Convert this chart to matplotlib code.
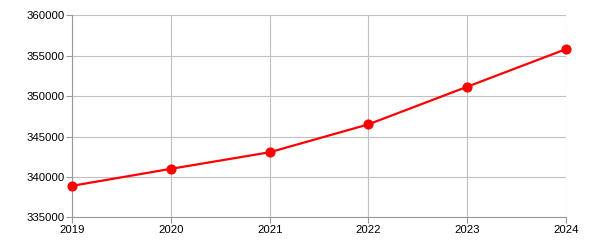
import matplotlib
matplotlib.use('Agg')
import matplotlib.pyplot as plt

# 数据
years = [2019, 2020, 2021, 2022, 2023, 2024]
values = [338900, 341000, 343050, 346500, 351150, 355800]
yticks = [335000, 340000, 345000, 350000, 355000, 360000]

plt.rcParams['font.family'] = ['Liberation Sans', 'DejaVu Sans']

fig = plt.figure(figsize=(6, 2.5), dpi=100)
ax = fig.add_axes([72.3 / 600, 1 - 217.3 / 250, (565.7 - 72.3) / 600, (217.3 - 15.3) / 250])

ax.plot(years, values, color='#ff0000', linewidth=1.6, marker='o',
        markersize=6.3, clip_on=False, zorder=3)

ax.set_xlim(2019, 2024)
ax.set_ylim(335000, 360000)
ax.set_xticks(years)
ax.set_yticks(yticks)
ax.set_xticklabels([str(y) for y in years])
ax.set_yticklabels([str(v) for v in yticks])

ax.grid(True, color='#c0c0c0', linewidth=0.8)
for s in ['top', 'right']:
    ax.spines[s].set_visible(False)
for s in ['left', 'bottom']:
    ax.spines[s].set_color('#999999')
    ax.spines[s].set_linewidth(0.8)
ax.tick_params(axis='both', length=4, width=0.8, color='#999999',
               labelsize=8.2, labelcolor='#000000', pad=1.5)

fig.savefig('out.png', dpi=100)
